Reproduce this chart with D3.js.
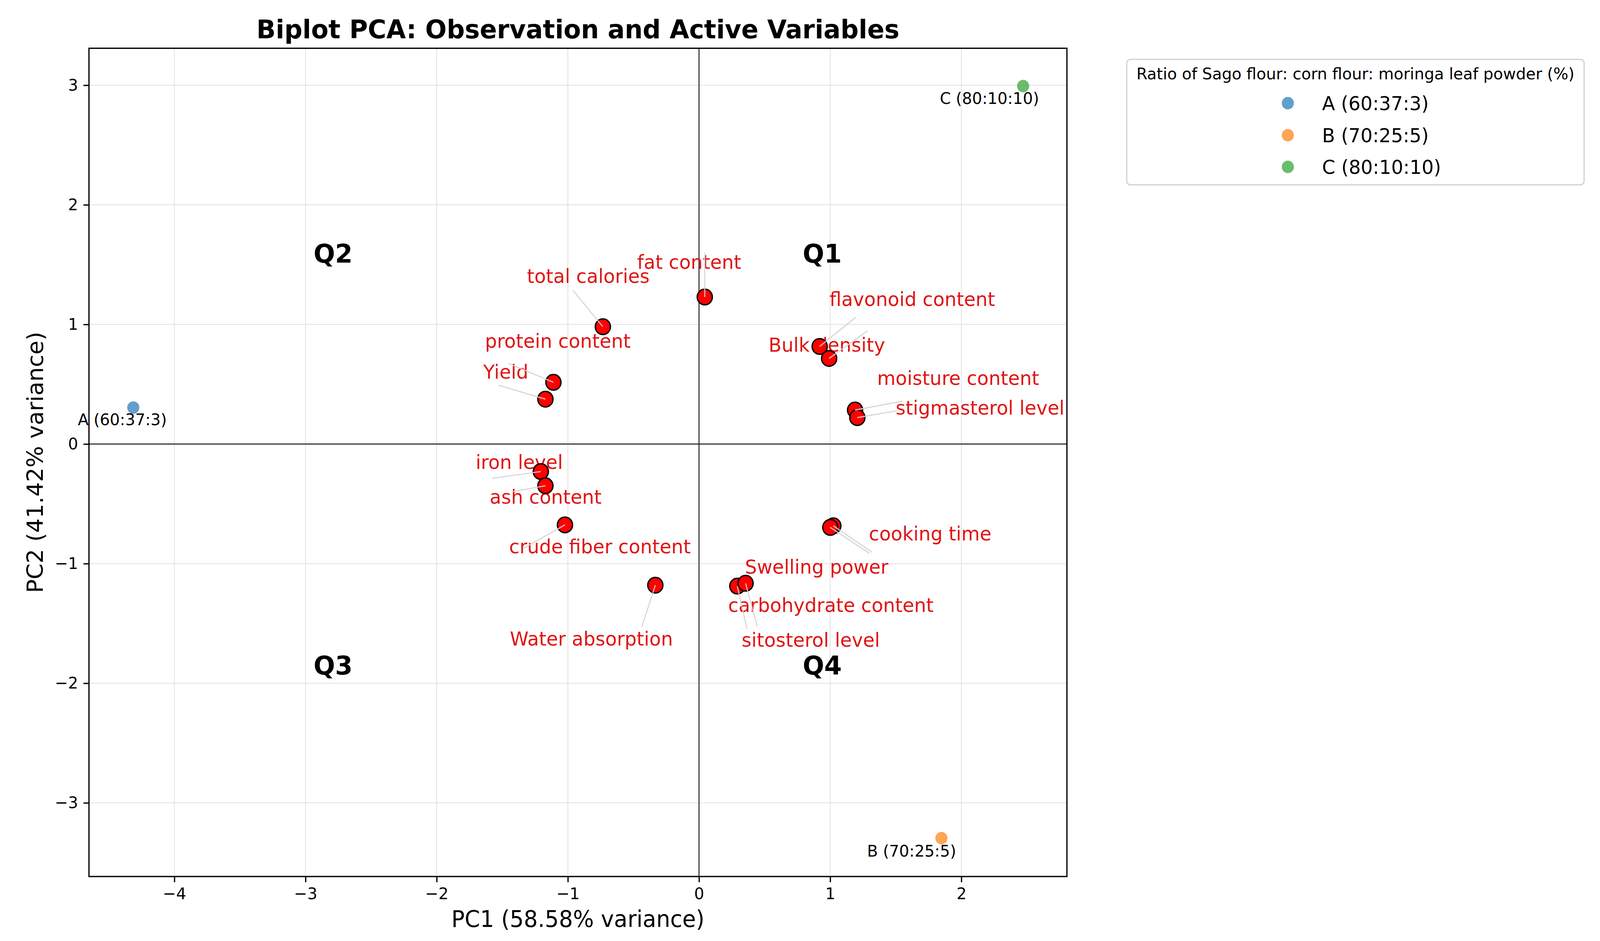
<!DOCTYPE html>
<html><head><meta charset="utf-8">
<script src="https://cdn.jsdelivr.net/npm/d3@7/dist/d3.min.js"></script>
<style>html,body{margin:0;padding:0;background:#fff;overflow:hidden;width:100%;height:100%;} svg{display:block;width:100vw;height:100vh;font-family:"DejaVu Sans",sans-serif;}</style>
</head><body><div id="chart"></div>
<script>
// ---------------- data ----------------
const titleText = "Biplot PCA: Observation and Active Variables";
const xLabel = "PC1 (58.58% variance)";
const yLabel = "PC2 (41.42% variance)";
const xTicks = [-4, -3, -2, -1, 0, 1, 2];
const yTicks = [-3, -2, -1, 0, 1, 2, 3];
const xDomain = [-4.651, 2.805];
const yDomain = [-3.616, 3.309];

const obsNames = ["A (60:37:3)", "B (70:25:5)", "C (80:10:10)"];
const obsPC1 = [-4.313, 1.848, 2.471];
const obsPC2 = [0.305, -3.295, 2.993];
const obsColors = ["#1f77b4", "#ff7f0e", "#2ca02c"];
const obsLabelX = [-4.397, 1.621, 2.2145];
const obsLabelY = [0.159, -3.449, 2.845];

const varNames = ["fat content", "total calories", "protein content", "Yield", "iron level", "ash content",
  "crude fiber content", "Water absorption", "flavonoid content", "Bulk density", "moisture content",
  "stigmasterol level", "cooking time", "Swelling power", "carbohydrate content", "sitosterol level"];
const varPC1 = [0.044, -0.733, -1.110, -1.171, -1.206, -1.171, -1.022, -0.333, 0.920, 0.992, 1.190, 1.207, 1.024, 1.001, 0.292, 0.355];
const varPC2 = [1.229, 0.981, 0.516, 0.375, -0.230, -0.349, -0.676, -1.180, 0.816, 0.716, 0.284, 0.221, -0.684, -0.697, -1.188, -1.164];
const varLabelX = [-0.472, -1.312, -1.632, -1.645, -1.703, -1.596, -1.448, -1.442, 0.9945, 0.530, 1.358, 1.4997, 1.295, 0.350, 0.222, 0.325];
const varLabelY = [1.463, 1.348, 0.806, 0.546, -0.2085, -0.500, -0.913, -1.686, 1.1556, 0.772, 0.493, 0.247, -0.805, -1.083, -1.4056, -1.694];
const varLineX = [0.044, -0.962, -1.452, -1.529, -1.574, -1.418, -1.338, -0.436, 1.194, 1.285, 1.55, 1.508, 1.32, 1.30, 0.366, 0.444];
const varLineY = [1.600, 1.287, 0.674, 0.492, -0.286, -0.398, -0.872, -1.529, 1.059, 0.947, 0.359, 0.278, -0.905, -0.915, -1.546, -1.524];

const quadNames = ["Q1", "Q2", "Q3", "Q4"];
const quadX = [0.94, -2.79, -2.79, 0.94];
const quadY = [1.517, 1.517, -1.926, -1.926];

const legendTitle = "Ratio of Sago flour: corn flour: moringa leaf powder (%)";

// ---------------- layout ----------------
const W = 4226, H = 2408;
const L = 235, R = 2818, T = 123.5, B = 2243;
const tickFs = 41.7, labelFs = 58.3, titleFs = 66.7, varFs = 50, obsFs = 41.7;

const svg = d3.select("#chart").append("svg")
  .attr("viewBox", `0 0 ${W} ${H}`).attr("preserveAspectRatio", "none");
svg.append("rect").attr("width", W).attr("height", H).attr("fill", "#fff");

const x = d3.scaleLinear().domain(xDomain).range([L, R]);
const y = d3.scaleLinear().domain(yDomain).range([B, T]);
const fmt = d => d < 0 ? "\u2212" + Math.abs(d) : String(d);

// grid
const grid = svg.append("g");
grid.selectAll("line.gx").data(xTicks).join("line")
  .attr("x1", d => x(d)).attr("x2", d => x(d)).attr("y1", T).attr("y2", B)
  .attr("stroke", "#e3e3e3").attr("stroke-width", 2.2);
grid.selectAll("line.gy").data(yTicks).join("line")
  .attr("y1", d => y(d)).attr("y2", d => y(d)).attr("x1", L).attr("x2", R)
  .attr("stroke", "#e3e3e3").attr("stroke-width", 2.2);

// zero lines
svg.append("line").attr("x1", x(0)).attr("x2", x(0)).attr("y1", T).attr("y2", B)
  .attr("stroke", "#333").attr("stroke-width", 2.8);
svg.append("line").attr("y1", y(0)).attr("y2", y(0)).attr("x1", L).attr("x2", R)
  .attr("stroke", "#333").attr("stroke-width", 2.8);

// axes
const xAxis = svg.append("g").attr("transform", `translate(0,${B})`)
  .call(d3.axisBottom(x).tickValues(xTicks).tickFormat(fmt).tickSize(14.6).tickPadding(14));
const yAxis = svg.append("g").attr("transform", `translate(${L},0)`)
  .call(d3.axisLeft(y).tickValues(yTicks).tickFormat(fmt).tickSize(14.6).tickPadding(14));
[xAxis, yAxis].forEach(a => {
  a.select(".domain").remove();
  a.selectAll(".tick line").attr("stroke", "#000").attr("stroke-width", 3.3);
  a.selectAll(".tick text").attr("fill", "#000").style("font-size", tickFs + "px")
    .style("font-family", "DejaVu Sans");
});

// observations
const vi = d3.range(varNames.length);
const oi = d3.range(obsNames.length);
svg.append("g").selectAll("circle").data(oi).join("circle")
  .attr("cx", i => x(obsPC1[i])).attr("cy", i => y(obsPC2[i])).attr("r", 16)
  .attr("fill", i => obsColors[i]).attr("fill-opacity", 0.7);
svg.append("g").selectAll("text").data(oi).join("text")
  .attr("x", i => x(obsLabelX[i])).attr("y", i => y(obsLabelY[i]))
  .attr("text-anchor", "middle").attr("font-size", obsFs).attr("fill", "#000")
  .text(i => obsNames[i]);

// variable labels
svg.append("g").selectAll("text").data(vi).join("text")
  .attr("x", i => x(varLabelX[i])).attr("y", i => y(varLabelY[i]))
  .attr("font-size", varFs).attr("fill", "#e01414")
  .text(i => varNames[i]);

// variable points
svg.append("g").selectAll("circle").data(vi).join("circle")
  .attr("cx", i => x(varPC1[i])).attr("cy", i => y(varPC2[i])).attr("r", 20)
  .attr("fill", "#ff0000").attr("stroke", "#000").attr("stroke-width", 3.5);

// leader lines
svg.append("g").selectAll("line").data(vi).join("line")
  .attr("x1", i => x(varLineX[i])).attr("y1", i => y(varLineY[i]))
  .attr("x2", i => x(varPC1[i])).attr("y2", i => y(varPC2[i]))
  .attr("stroke", "#d3d3d3").attr("stroke-width", 2.6);

// quadrant labels
svg.append("g").selectAll("text").data(d3.range(4)).join("text")
  .attr("x", i => x(quadX[i])).attr("y", i => y(quadY[i]))
  .attr("text-anchor", "middle").attr("font-size", titleFs).attr("font-weight", "bold")
  .attr("fill", "#000").text(i => quadNames[i]);

// spines
svg.append("rect").attr("x", L).attr("y", T).attr("width", R - L).attr("height", B - T)
  .attr("fill", "none").attr("stroke", "#000").attr("stroke-width", 3.3);

// titles
svg.append("text").attr("x", (L + R) / 2).attr("y", 98).attr("text-anchor", "middle")
  .attr("font-size", titleFs).attr("font-weight", "bold").text(titleText);
svg.append("text").attr("x", (L + R) / 2).attr("y", 2372).attr("text-anchor", "middle")
  .attr("font-size", labelFs).text(xLabel);
svg.append("text").attr("transform", `translate(113,${(T + B) / 2}) rotate(-90)`)
  .attr("text-anchor", "middle").attr("font-size", labelFs).text(yLabel);

// legend
const lg = svg.append("g");
lg.append("rect").attr("x", 2976).attr("y", 152).attr("width", 1208).attr("height", 321)
  .attr("rx", 10).attr("fill", "#fff").attr("fill-opacity", 0.8)
  .attr("stroke", "#d0d0d0").attr("stroke-width", 3);
lg.append("text").attr("x", 3580).attr("y", 203).attr("text-anchor", "middle")
  .attr("font-size", 41.7).text(legendTitle);
const rowY = [264, 346, 427];
lg.selectAll("circle").data(oi).join("circle")
  .attr("cx", 3401.5).attr("cy", i => rowY[i]).attr("r", 16)
  .attr("fill", i => obsColors[i]).attr("fill-opacity", 0.7);
lg.selectAll("text.e").data(oi).join("text").attr("class", "e")
  .attr("x", 3492).attr("y", i => rowY[i] + 18).attr("font-size", 50)
  .text(i => obsNames[i]);
</script></body></html>
